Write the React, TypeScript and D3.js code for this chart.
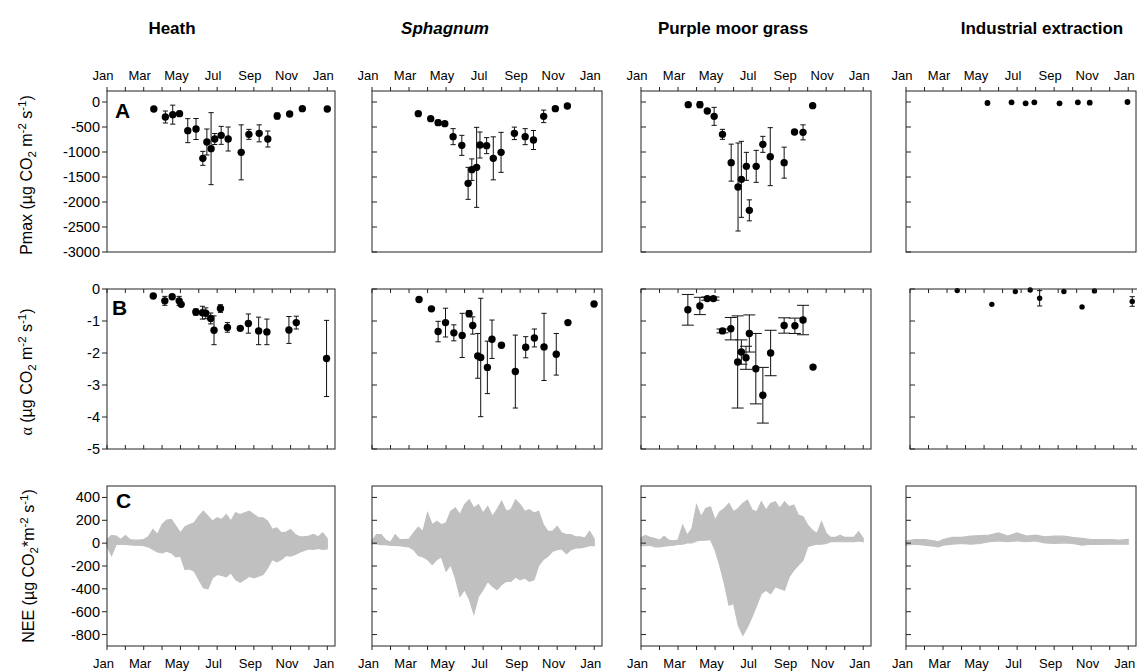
import * as d3 from 'd3';

// ---- labels ----
const siteTitles = ['Heath', 'Sphagnum', 'Purple moor grass', 'Industrial extraction'];
const monthTicks = [0, 1, 2, 3, 4, 5, 6, 7, 8, 9, 10, 11, 12];
const labelMonths = [0, 2, 4, 6, 8, 10, 12];
const monthLabels = ['Jan', 'Mar', 'May', 'Jul', 'Sep', 'Nov', 'Jan'];

const pmaxTicks = [0, -500, -1000, -1500, -2000, -2500, -3000];
const alphaTicks = [0, -1, -2, -3, -4, -5];
const neeTicks = [400, 200, 0, -200, -400, -600, -800];

// ---- Pmax (A) ----
const heathPmaxMonth = [2.55, 3.18, 3.58, 3.95, 4.4, 4.85, 5.22, 5.44, 5.67, 5.87, 6.22, 6.6, 7.31, 7.73, 8.29, 8.76, 9.27, 9.95, 10.64, 12.0];
const heathPmax = [-140, -300, -253, -233, -573, -540, -1127, -800, -933, -740, -667, -740, -1007, -647, -627, -740, -280, -240, -133, -140];
const heathPmaxErr = [0, 120, 190, 50, 240, 210, 140, 260, 720, 110, 180, 240, 550, 100, 170, 160, 60, 0, 0, 40];

const sphagPmaxMonth = [2.5, 3.17, 3.57, 3.93, 4.38, 4.85, 5.19, 5.39, 5.65, 5.83, 6.19, 6.55, 6.97, 7.69, 8.27, 8.72, 9.27, 9.9, 10.55];
const sphagPmax = [-233, -333, -413, -433, -693, -867, -1627, -1353, -1307, -860, -873, -1127, -1007, -627, -693, -760, -287, -133, -80];
const sphagPmaxErr = [0, 30, 50, 0, 160, 200, 320, 215, 800, 260, 160, 430, 400, 125, 160, 190, 125, 40, 0];

const purplePmaxMonth = [2.55, 3.18, 3.58, 3.95, 4.4, 4.87, 5.24, 5.42, 5.69, 5.85, 6.22, 6.58, 6.98, 7.73, 8.29, 8.75, 9.27];
const purplePmax = [-53, -53, -180, -287, -647, -1213, -1700, -1547, -1287, -2167, -1287, -847, -1093, -1213, -600, -607, -73];
const purplePmaxErr = [0, 60, 0, 180, 100, 370, 880, 760, 280, 210, 320, 160, 580, 310, 0, 150, 0];

const indPmaxMonth = [4.4, 5.7, 6.46, 6.93, 8.29, 9.28, 9.92, 11.96];
const indPmax = [-20, -7, -27, -7, -27, -7, -13, 0];
const indPmaxErr = [0, 0, 0, 0, 0, 0, 0, 0];

// ---- alpha (B) ----
const heathAlphaMonth = [2.52, 3.15, 3.55, 3.93, 4.04, 4.84, 5.2, 5.38, 5.65, 5.83, 6.18, 6.56, 7.26, 7.7, 8.26, 8.71, 9.91, 10.31, 11.96];
const heathAlpha = [-0.22, -0.37, -0.24, -0.37, -0.48, -0.72, -0.74, -0.76, -0.92, -1.29, -0.61, -1.2, -1.23, -1.08, -1.31, -1.34, -1.28, -1.05, -2.17];
const heathAlphaErr = [0, 0.14, 0, 0.14, 0, 0.1, 0.2, 0.17, 0.17, 0.45, 0.12, 0.15, 0.05, 0.3, 0.43, 0.4, 0.42, 0.2, 1.19];

const sphagAlphaMonth = [2.54, 3.21, 3.57, 3.97, 4.42, 4.87, 5.24, 5.44, 5.71, 5.87, 6.23, 6.48, 6.99, 7.74, 8.3, 8.77, 9.29, 9.95, 10.58, 11.99];
const sphagAlpha = [-0.33, -0.62, -1.33, -1.05, -1.37, -1.45, -0.77, -1.14, -2.09, -2.14, -2.45, -1.57, -1.76, -2.58, -1.82, -1.53, -1.81, -2.04, -1.05, -0.47];
const sphagAlphaErr = [0, 0, 0.32, 0.45, 0.25, 0.69, 0.1, 0.27, 0.7, 1.85, 0.82, 0.6, 0.07, 1.14, 0.33, 0.28, 1.05, 0.65, 0, 0];

const purpleAlphaMonth = [2.53, 3.18, 3.58, 3.91, 4.4, 4.85, 5.22, 5.42, 5.67, 5.85, 6.2, 6.58, 7.0, 7.73, 8.31, 8.75, 9.29];
const purpleAlpha = [-0.65, -0.53, -0.3, -0.3, -1.31, -1.24, -2.28, -1.97, -2.15, -1.39, -2.49, -3.32, -2.0, -1.14, -1.15, -0.97, -2.44];
const purpleAlphaErr = [0.48, 0.27, 0.05, 0.05, 0.06, 0.35, 1.44, 0.38, 0.36, 0.58, 1.1, 0.87, 0.71, 0.24, 0.24, 0.46, 0];

const indAlphaMonth = [2.55, 4.42, 5.69, 6.49, 7.0, 8.31, 9.29, 9.96, 12.0];
const indAlpha = [-0.05, -0.48, -0.08, -0.03, -0.29, -0.08, -0.56, -0.06, -0.39];
const indAlphaErr = [0, 0, 0, 0, 0.24, 0, 0, 0, 0.15];

// ---- NEE (C): upper / lower envelope ----
const neeMonth = [0, 0.25, 0.5, 0.75, 1, 1.25, 1.5, 1.75, 2, 2.25, 2.5, 2.75, 3, 3.25, 3.5, 3.75, 4, 4.25, 4.5, 4.75, 5, 5.25, 5.5, 5.75, 6, 6.25, 6.5, 6.75, 7, 7.25, 7.5, 7.75, 8, 8.25, 8.5, 8.75, 9, 9.25, 9.5, 9.75, 10, 10.25, 10.5, 10.75, 11, 11.25, 11.5, 11.75, 12];
const heathNeeHi = [32, 67, 61, 32, 67, 32, 26, 26, 32, 55, 120, 76, 163, 201, 207, 149, 90, 143, 163, 178, 236, 280, 236, 193, 222, 207, 251, 193, 266, 251, 266, 280, 251, 222, 222, 193, 120, 134, 90, 96, 120, 76, 55, 55, 61, 76, 55, 90, 38];
const heathNeeLo = [-26, -108, -12, -12, -12, -15, -18, -18, -23, -32, -55, -76, -85, -70, -85, -120, -114, -231, -225, -245, -318, -391, -400, -304, -274, -283, -295, -260, -318, -342, -318, -289, -304, -289, -274, -216, -143, -164, -143, -108, -114, -99, -79, -64, -50, -55, -47, -55, -50];
const sphagNeeHi = [25, 74, 74, 25, 7, 74, 31, 31, 36, 89, 141, 103, 264, 162, 191, 162, 176, 278, 308, 249, 337, 380, 308, 337, 264, 322, 235, 293, 366, 278, 293, 380, 337, 278, 293, 264, 278, 162, 103, 103, 147, 89, 74, 74, 54, 54, 45, 103, 36];
const sphagNeeLo = [-7, -7, -13, -13, -19, -19, -22, -28, -34, -57, -109, -121, -144, -188, -144, -121, -246, -188, -305, -465, -407, -488, -620, -465, -407, -334, -378, -407, -363, -334, -334, -296, -320, -305, -334, -320, -197, -144, -115, -71, -57, -51, -92, -57, -42, -42, -34, -22, -22];
const purpleNeeHi = [50, 67, 50, 41, 26, 61, 26, 20, 26, 158, 70, 128, 333, 231, 304, 318, 201, 274, 304, 347, 274, 304, 347, 377, 289, 274, 362, 289, 347, 362, 304, 362, 318, 333, 245, 231, 158, 114, 85, 187, 85, 50, 50, 70, 50, 50, 50, 99, 41];
const purpleNeeLo = [-23, -23, -18, -32, -32, -26, -23, -18, -12, -9, 3, 3, 20, 26, 26, 32, -61, -193, -353, -543, -528, -718, -806, -733, -645, -543, -441, -412, -441, -383, -397, -412, -295, -237, -193, -149, -32, -18, -9, -9, -3, 12, 12, 12, 12, 12, 12, 20, 12];
const indNeeMonth = [0, 0.5, 1, 1.5, 1.75, 2, 2.5, 3, 3.5, 4, 4.5, 5, 5.5, 6, 6.5, 7, 7.5, 8, 8.5, 9, 9.5, 10, 10.5, 11, 11.5, 12];
const indNeeHi = [20, 32, 32, 20, 12, 32, 50, 50, 61, 67, 70, 90, 61, 90, 61, 70, 55, 61, 61, 50, 41, 32, 32, 32, 26, 32];
const indNeeLo = [-18, -9, -18, -26, -32, -18, -9, -3, -9, -3, 12, 20, 12, 20, 12, 20, 3, -3, 3, -3, -18, -9, -12, -9, -9, -9];

// ---- layout ----
const colX = [107, 372, 641, 906];
const colW = [228, 230, 230, 230];
const rows = [
  { top: 91, h: 161, domain: [-3000, 220], ticks: pmaxTicks },
  { top: 289, h: 160, domain: [-5, 0], ticks: alphaTicks },
  { top: 486, h: 160, domain: [-900, 500], ticks: neeTicks },
];
const FONT = 'Liberation Sans, Arial, Helvetica, sans-serif';
const NEE_GREY = '#c0c0c0';

const pmaxSets = [
  [heathPmaxMonth, heathPmax, heathPmaxErr],
  [sphagPmaxMonth, sphagPmax, sphagPmaxErr],
  [purplePmaxMonth, purplePmax, purplePmaxErr],
  [indPmaxMonth, indPmax, indPmaxErr],
];
const alphaSets = [
  [heathAlphaMonth, heathAlpha, heathAlphaErr],
  [sphagAlphaMonth, sphagAlpha, sphagAlphaErr],
  [purpleAlphaMonth, purpleAlpha, purpleAlphaErr],
  [indAlphaMonth, indAlpha, indAlphaErr],
];
const neeSets = [
  [neeMonth, heathNeeHi, heathNeeLo],
  [neeMonth, sphagNeeHi, sphagNeeLo],
  [neeMonth, purpleNeeHi, purpleNeeLo],
  [indNeeMonth, indNeeHi, indNeeLo],
];

function Scatter({ x, y, sets, r, cap }: any) {
  const [ms, vs, es] = sets;
  return (
    <g>
      {ms.map((m: number, i: number) => {
        const cx = x(m);
        const e = es[i];
        return (
          <g key={i}>
            {e > 0 && (
              <g stroke="#111" strokeWidth={1}>
                <line x1={cx} x2={cx} y1={y(vs[i] + e)} y2={y(vs[i] - e)} />
                <line x1={cx - cap} x2={cx + cap} y1={y(vs[i] + e)} y2={y(vs[i] + e)} />
                <line x1={cx - cap} x2={cx + cap} y1={y(vs[i] - e)} y2={y(vs[i] - e)} />
              </g>
            )}
            <circle cx={cx} cy={y(vs[i])} r={r} fill="#000" />
          </g>
        );
      })}
    </g>
  );
}

function Panel({ col, row }: { col: number; row: number }) {
  const cfg = rows[row];
  const left = col === 3 && row === 1 ? colX[col] + 4 : colX[col];
  const w = colW[col];
  const x = d3.scaleLinear().domain([0, 12.42]).range([left, left + w]);
  const y = d3.scaleLinear().domain(cfg.domain).range([cfg.top + cfg.h, cfg.top]);
  const bottom = cfg.top + cfg.h;
  const heath = col === 0;
  const tl = 5;

  let marks: any = null;
  if (row === 0) {
    marks = <Scatter x={x} y={y} sets={pmaxSets[col]} r={col === 3 ? 2.9 : 3.7} cap={2.6} />;
  } else if (row === 1) {
    marks = <Scatter x={x} y={y} sets={alphaSets[col]} r={col === 3 ? 2.7 : 3.7} cap={col === 2 ? 6 : 2.6} />;
  } else {
    const [ms, hi, lo] = neeSets[col];
    const area = d3.area<number>()
      .x((_, i) => x(ms[i]))
      .y0((_, i) => y(lo[i]))
      .y1((_, i) => y(hi[i]))
      .curve(d3.curveLinear);
    marks = (
      <path d={area(ms as number[]) || ''} fill={NEE_GREY} stroke={NEE_GREY} strokeWidth={1.2} strokeLinejoin="miter" />
    );
  }

  return (
    <g>
      {marks}
      {cfg.ticks.map((t: number) => {
        const ty = y(t);
        if (heath) {
          return (
            <g key={t}>
              <line x1={left - tl} x2={left} y1={ty} y2={ty} stroke="#222" />
              <text x={left - 7} y={ty + 5} textAnchor="end" fontSize={14.5} fontFamily={FONT}>{t}</text>
            </g>
          );
        }
        return <line key={t} x1={left} x2={left + tl} y1={ty} y2={ty} stroke="#222" />;
      })}
      {monthTicks.map((m) => {
        const tx = x(m);
        if (row === 0) return <line key={m} x1={tx} x2={tx} y1={cfg.top - 4} y2={cfg.top} stroke="#222" />;
        if (row === 1)
          return (
            <g key={m} stroke="#222">
              <line x1={tx} x2={tx} y1={cfg.top} y2={cfg.top + 4} />
              <line x1={tx} x2={tx} y1={bottom - 4} y2={bottom} />
            </g>
          );
        return <line key={m} x1={tx} x2={tx} y1={bottom} y2={bottom + 4} stroke="#222" />;
      })}
      {row === 0 &&
        labelMonths.map((m, i) => (
          <text key={m} x={x(m) - 4} y={80} textAnchor="middle" fontSize={13} fontFamily={FONT}>
            {monthLabels[i]}
          </text>
        ))}
      {row === 2 &&
        labelMonths.map((m, i) => (
          <text key={m} x={x(m) - 3.5} y={668} textAnchor="middle" fontSize={13} fontFamily={FONT}>
            {monthLabels[i]}
          </text>
        ))}
      <rect x={left} y={cfg.top} width={w} height={cfg.h} fill="none" stroke="#222" strokeWidth={1} />
    </g>
  );
}

function UnitTail({ mid }: { mid: string }) {
  return (
    <>
      CO<tspan dy={4} fontSize={11.5}>2</tspan>
      <tspan dy={-4}>{mid}</tspan><tspan dy={-6} fontSize={11.5}>-2</tspan>
      <tspan dy={6}> s</tspan><tspan dy={-6} fontSize={11.5}>-1</tspan><tspan dy={6}>)</tspan>
    </>
  );
}

export default function App() {
  const titleX = [172, 445, 733, 1042];
  return (
    <svg width={1137} height={671} style={{ position: 'absolute', left: 0, top: 0, background: '#fff' }}>
      <rect width={1137} height={671} fill="#fff" />
      {siteTitles.map((t, i) => (
        <text key={t} x={titleX[i]} y={34} textAnchor="middle" fontSize={17} fontWeight="bold"
          fontStyle={i === 1 ? 'italic' : 'normal'} fontFamily={FONT}>{t}</text>
      ))}
      {[0, 1, 2].map((r) => [0, 1, 2, 3].map((c) => <Panel key={`${r}-${c}`} col={c} row={r} />))}

      <text x={115} y={118} fontSize={21} fontWeight="bold" fontFamily={FONT}>A</text>
      <text x={112} y={315} fontSize={21} fontWeight="bold" fontFamily={FONT}>B</text>
      <text x={116} y={508} fontSize={21} fontWeight="bold" fontFamily={FONT}>C</text>

      <text transform="translate(32,175) rotate(-90)" textAnchor="middle" fontSize={16} fontFamily={FONT}>
        Pmax (µg <UnitTail mid=" m" />
      </text>
      <text transform="translate(32,372) rotate(-90)" textAnchor="middle" fontSize={16} fontFamily={FONT}>
        <tspan fontFamily="Liberation Serif, DejaVu Serif, serif">α</tspan> (µg <UnitTail mid=" m" />
      </text>
      <text transform="translate(34,566) rotate(-90)" textAnchor="middle" fontSize={16} fontFamily={FONT}>
        NEE (µg <UnitTail mid="*m" />
      </text>
    </svg>
  );
}
